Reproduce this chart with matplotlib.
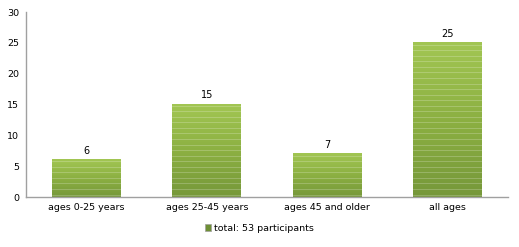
import numpy as np
import matplotlib.pyplot as plt
from matplotlib.colors import LinearSegmentedColormap
from matplotlib.patches import Patch

categories = ['ages 0-25 years', 'ages 25-45 years', 'ages 45 and older', 'all ages']
values = [6, 15, 7, 25]
legend_label = 'total: 53 participants'

plt.rcParams['font.family'] = 'DejaVu Sans'
fig = plt.figure(figsize=(5.19, 2.47), dpi=100)
ax = fig.add_axes([0.050, 0.2024, 0.929, 0.749])

cmap = LinearSegmentedColormap.from_list('grn', ['#76983a', '#8cb042', '#a2c653'])
x = np.arange(len(categories))
w = 0.57
bars = ax.bar(x, values, width=w, color='none', edgecolor='none', zorder=2)
grad = np.linspace(0, 1, 256).reshape(-1, 1)
for b in bars:
    x0, y0 = b.get_x(), b.get_y()
    h = b.get_height()
    ax.imshow(grad, cmap=cmap, origin='lower', aspect='auto',
              extent=[x0, x0 + w, y0, y0 + h], zorder=1)
    # thin light stripes like the reference texture
    for yy in np.arange(0.4, h, 0.9):
        ax.plot([x0, x0 + w], [yy, yy], color='white', lw=0.5, alpha=0.3, zorder=2)
    ax.text(b.get_x() + w / 2, h + 0.7, str(h), ha='center', va='bottom', fontsize=7)

ax.set_xlim(-0.5, len(categories) - 0.5)
ax.set_ylim(0, 30)
ax.set_yticks(range(0, 31, 5))
ax.set_xticks(x)
ax.set_xticklabels(categories, fontsize=6.8)
ax.tick_params(axis='y', labelsize=6.8, length=0, pad=5)
ax.tick_params(axis='x', length=0, pad=4)
for s in ['top', 'right']:
    ax.spines[s].set_visible(False)
for s in ['left', 'bottom']:
    ax.spines[s].set_color('#a0a0a0')
    ax.spines[s].set_linewidth(1)

fig.legend(handles=[Patch(facecolor='#6e8f35', edgecolor='#a0a0a0', lw=0.5, label=legend_label)],
           loc='center', bbox_to_anchor=(0.5, 1 - 228 / 247), frameon=False,
           fontsize=6.8, handlelength=0.7, handleheight=0.7, handletextpad=0.3)

plt.savefig('out.png', dpi=100)
